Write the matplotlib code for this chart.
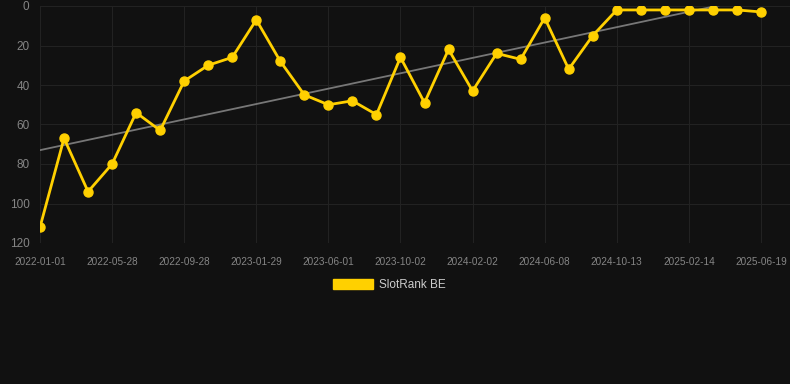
import numpy as np
import matplotlib; matplotlib.use('Agg')
import matplotlib.pyplot as plt
plt.rcParams['font.family'] = ['Liberation Sans', 'DejaVu Sans']

# rank per snapshot (lower = better), 31 evenly spaced points
ranks = [112, 67, 94, 80, 54, 63, 38, 30, 26, 7, 28, 45, 50, 48, 55, 26, 49, 22,
         43, 24, 27, 6, 32, 15, 2, 2, 2, 2, 2, 2, 3]
tick_labels = ['2022-01-01', '2022-05-28', '2022-09-28', '2023-01-29', '2023-06-01',
               '2023-10-02', '2024-02-02', '2024-06-08', '2024-10-13', '2025-02-14', '2025-06-19']
series_name = 'SlotRank BE'

BG = '#111111'; GOLD = '#FFD000'; GRID = '#222222'; TXT = '#858585'
x = np.arange(len(ranks))
k, b = np.polyfit(x, ranks, 1)

fig = plt.figure(figsize=(7.9, 3.84), dpi=100, facecolor=BG)
ax = fig.add_axes([40/790, 1-243/384, 750/790, 237/384], facecolor=BG)
ax.plot(x, k*x + b, color='#777777', lw=1.3, zorder=2)
ax.plot(x, ranks, color=GOLD, lw=2, marker='o', ms=6.5, zorder=3, label=series_name)
ax.set_xlim(0, 30 + 29/24); ax.set_ylim(120, 0)
ax.set_yticks(range(0, 121, 20))
ax.set_xticks(x[::3]); ax.set_xticklabels(tick_labels)
ax.tick_params(axis='x', colors=TXT, labelsize=7.2, length=0, pad=10)
ax.tick_params(axis='y', colors=TXT, labelsize=8.5, length=0, pad=7.5)
ax.grid(True, color=GRID, lw=0.8)
for s in ax.spines.values(): s.set_visible(False)
ax.set_axisbelow(True)

h = plt.Rectangle((0, 0), 1, 1, color=GOLD)
fig.legend([h], [series_name], loc='center', bbox_to_anchor=(389.5/790, 1-285/384), frameon=False,
           labelcolor='#cccccc', fontsize=8.5, handlelength=3.4, handleheight=0.9, handletextpad=0.5)
plt.savefig('out.png', facecolor=BG); plt.close()
